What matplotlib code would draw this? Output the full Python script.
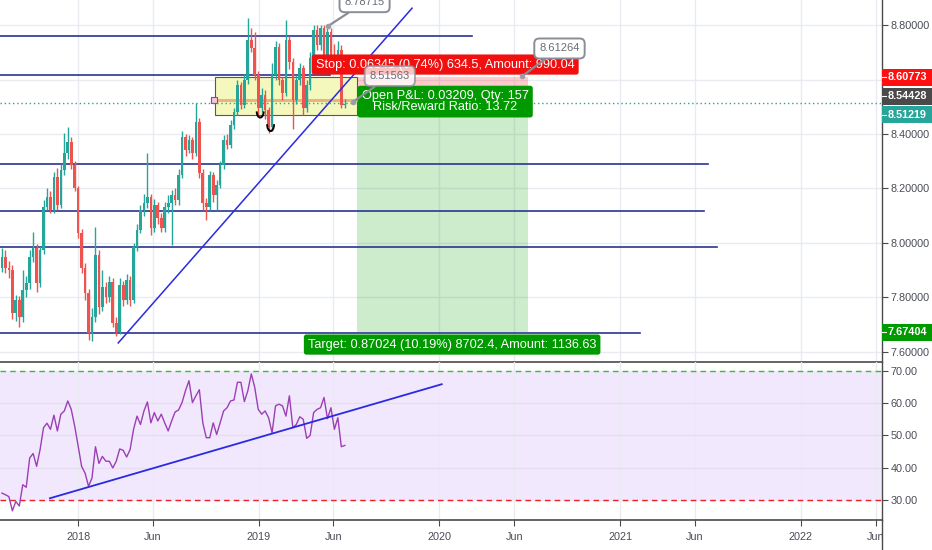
import datetime as dt
import numpy as np
import matplotlib
matplotlib.use("Agg")
import matplotlib.pyplot as plt
import matplotlib.dates as mdates
import matplotlib.transforms as mtrans
from matplotlib.patches import Rectangle, Arc
from matplotlib.lines import Line2D
from matplotlib import font_manager

# ---- data (weekly bars, first bar week of 2017-07-31) ----
first_week = dt.date(2017, 7, 31)
first_open = 7.908
closes = [7.949, 7.908, 7.901, 7.743, 7.791, 7.728, 7.828, 7.853, 7.949, 7.982,
          7.853, 7.974, 8.132, 8.169, 8.121, 8.242, 8.139, 8.268, 8.330, 8.371,
          8.286, 8.202, 8.037, 7.908, 7.816, 7.670, 7.728, 7.956, 7.765, 7.839,
          7.802, 7.857, 7.706, 7.673, 7.846, 7.791, 7.864, 7.791, 7.985, 8.048,
          8.121, 8.147, 8.169, 8.055, 8.139, 8.092, 8.055, 8.132, 8.147, 8.176,
          8.158, 8.249, 8.389, 8.341, 8.378, 8.330, 8.444, 8.257, 8.147, 8.132,
          8.249, 8.176, 8.213, 8.286, 8.378, 8.360, 8.433, 8.481, 8.580, 8.506,
          8.598, 8.745, 8.716, 8.617, 8.495, 8.543, 8.488, 8.426, 8.617, 8.719,
          8.598, 8.550, 8.745, 8.664, 8.525, 8.598, 8.642, 8.495, 8.580, 8.679,
          8.782, 8.727, 8.789, 8.690, 8.774, 8.679, 8.653, 8.708, 8.506, 8.512]
highs = [7.982, 7.975, 7.935, 7.920, 7.810, 7.805, 7.900, 7.880, 7.975, 8.040,
         7.995, 7.990, 8.158, 8.200, 8.190, 8.260, 8.275, 8.290, 8.404, 8.426,
         8.390, 8.300, 8.210, 8.050, 7.925, 7.830, 7.760, 8.059, 7.975, 7.900,
         7.855, 7.880, 7.870, 7.730, 7.870, 7.860, 7.885, 7.880, 8.000, 8.070,
         8.140, 8.180, 8.330, 8.180, 8.160, 8.150, 8.110, 8.150, 8.175, 8.195,
         8.200, 8.270, 8.410, 8.400, 8.395, 8.390, 8.514, 8.460, 8.270, 8.165,
         8.265, 8.260, 8.230, 8.300, 8.395, 8.400, 8.450, 8.495, 8.600, 8.590,
         8.620, 8.826, 8.789, 8.775, 8.630, 8.570, 8.560, 8.500, 8.660, 8.740,
         8.735, 8.610, 8.818, 8.760, 8.680, 8.615, 8.660, 8.655, 8.600, 8.700,
         8.800, 8.800, 8.800, 8.800, 8.798, 8.790, 8.730, 8.740, 8.725, 8.530]
lows = [7.895, 7.890, 7.870, 7.720, 7.715, 7.690, 7.710, 7.800, 7.830, 7.930,
        7.820, 7.840, 7.960, 8.120, 8.110, 8.110, 8.120, 8.130, 8.250, 8.310,
        8.270, 8.190, 8.020, 7.890, 7.790, 7.644, 7.640, 7.710, 7.740, 7.750,
        7.780, 7.785, 7.690, 7.659, 7.665, 7.770, 7.775, 7.770, 7.780, 7.970,
        8.035, 8.100, 8.130, 8.030, 8.040, 8.070, 8.040, 8.040, 8.110, 7.993,
        8.140, 8.140, 8.240, 8.320, 8.330, 8.310, 8.320, 8.240, 8.120, 8.084,
        8.120, 8.150, 8.120, 8.200, 8.270, 8.345, 8.350, 8.420, 8.470, 8.490,
        8.495, 8.585, 8.700, 8.600, 8.470, 8.480, 8.455, 8.404, 8.410, 8.600,
        8.580, 8.525, 8.540, 8.640, 8.420, 8.510, 8.580, 8.470, 8.480, 8.560,
        8.660, 8.710, 8.710, 8.670, 8.680, 8.660, 8.630, 8.640, 8.495, 8.495]
rsi = [32.1, 31.6, 31.0, 26.6, 29.5, 28.1, 34.7, 33.9, 43.0, 44.4,
       40.4, 45.6, 52.4, 53.8, 51.9, 56.3, 51.4, 56.6, 57.6, 60.7,
       58.1, 52.9, 46.7, 40.4, 38.3, 34.2, 36.8, 46.5, 41.3, 43.5,
       42.0, 42.0, 39.9, 42.0, 45.8, 45.4, 43.3, 45.6, 51.9, 56.0,
       53.4, 57.6, 60.4, 53.9, 57.1, 54.5, 56.6, 53.9, 51.4, 54.5,
       57.3, 57.9, 60.2, 63.9, 67.0, 60.2, 62.3, 64.2, 53.9, 49.3,
       49.3, 53.9, 50.3, 53.9, 57.6, 58.6, 60.7, 61.0, 66.5, 66.5,
       60.5, 63.9, 69.1, 64.9, 58.1, 56.6, 57.6, 55.5, 50.8, 59.2,
       59.7, 59.2, 56.0, 62.3, 52.4, 53.4, 55.8, 55.0, 49.1, 50.0,
       57.1, 58.1, 58.6, 61.8, 55.2, 58.6, 51.9, 55.5, 46.5, 46.9]

levels = [8.760, 8.617, 8.290, 8.117, 7.985, 7.670]
level_ends = ["2020-03-08", "2019-05-26", "2021-06-28", "2021-06-20", "2021-07-16", "2021-02-10"]
trend_dates = ["2018-03-23", "2019-11-07"]
trend_prices = [7.633, 8.862]
rsi_trend_dates = ["2017-11-05", "2020-01-06"]
rsi_trend_vals = [30.5, 65.9]

entry, stop, target = 8.54428, 8.60773, 7.67404
last_price = 8.51219
pos_start, pos_end = "2019-07-18", "2020-06-29"
zone_dates = ["2018-10-05", "2019-07-18"]
zone_prices = [8.470, 8.609]
ray_price = 8.525

tick_dates = ["2018-01-01", "2018-06-01", "2019-01-01", "2019-06-01", "2020-01-01",
              "2020-06-01", "2021-01-01", "2021-06-01", "2022-01-01", "2022-06-01"]
tick_labels = ["2018", "Jun", "2019", "Jun", "2020", "Jun", "2021", "Jun", "2022", "Jun"]
price_ticks = [7.6, 7.8, 8.0, 8.2, 8.4, 8.6, 8.8]
rsi_ticks = [30, 40, 50, 60, 70]

# callouts: text, point (date, price), box (date, price)
callouts = [("8.78715", ("2019-05-21", 8.796), ("2019-08-03", 8.884)),
            ("8.61264", ("2020-06-17", 8.613), ("2020-08-31", 8.714)),
            ("8.51563", ("2019-07-10", 8.517), ("2019-09-23", 8.613))]

# ---- styling ----
def has_font(name):
    try:
        font_manager.findfont(font_manager.FontProperties(family=name), fallback_to_default=False)
        return True
    except ValueError:
        return False

plt.rcParams['font.family'] = ['Liberation Sans', 'DejaVu Sans']
narrow = has_font("Liberation Sans Narrow")
LBL_FAM = ["Liberation Sans Narrow", "DejaVu Sans"] if narrow else ["Liberation Sans", "DejaVu Sans"]
LBL_SIZE = 11 if narrow else 9.2

TEAL = '#26a69a'
RED = '#ef5350'
GRID = '#e9ebf1'
AXC = '#4a4a4a'
TXT = '#4a4d57'
NAVY = '#2a3590'

d = mdates.datestr2num

fig = plt.figure(figsize=(9.32, 5.5), dpi=100)
W, H = 932.0, 550.0
ax = fig.add_axes([0, 188 / H, 882 / W, 362 / H])
ax2 = fig.add_axes([0, 30 / H, 882 / W, 158 / H], sharex=ax)

xmin, xmax = d("2017-07-27"), d("2022-06-14")
ax.set_xlim(xmin, xmax)
ax.set_ylim(7.563, 8.892)
ax2.set_ylim(23.75, 72.8)

dates = mdates.date2num([first_week + dt.timedelta(weeks=i) for i in range(len(closes))])
closes = np.array(closes)
opens = np.concatenate([[first_open], closes[:-1]])
highs = np.array(highs)
lows = np.array(lows)

# grids
for t in tick_dates:
    ax.axvline(d(t), color=GRID, lw=1, zorder=0)
    ax2.axvline(d(t), color=GRID, lw=1, zorder=0.5)
for p in price_ticks:
    ax.axhline(p, color=GRID, lw=1, zorder=0)

# yellow zone + orange ray
ax.add_patch(Rectangle((d(zone_dates[0]), zone_prices[0]), d(zone_dates[1]) - d(zone_dates[0]),
                       zone_prices[1] - zone_prices[0], fc='#f4f8bd', ec='#55585f', lw=0.8, zorder=1))
ax.plot([d(zone_dates[0]) - 3, d(zone_dates[1])], [ray_price, ray_price], color='#f0b27a', lw=2.2, zorder=1.5)
ax.plot([d(zone_dates[0]) - 3], [ray_price], marker='s', ms=4, mfc='#f5c6e0', mec='#b03a7a', mew=0.8, zorder=1.6)

# position tool zones
ax.add_patch(Rectangle((d(pos_start), entry), d(pos_end) - d(pos_start), stop - entry,
                       fc='#ff0000', alpha=0.2, ec='none', zorder=1))
ax.add_patch(Rectangle((d(pos_start), target), d(pos_end) - d(pos_start), entry - target,
                       fc='#00a000', alpha=0.2, ec='none', zorder=1))

# horizontal levels
for lv, le in zip(levels, level_ends):
    ax.plot([xmin, d(le)], [lv, lv], color=NAVY, lw=1.2, zorder=2)

# candles
cols = np.where(closes >= opens, TEAL, RED)
ax.vlines(dates, lows, highs, colors=cols, lw=1.0, zorder=3)
ax.bar(dates, np.maximum(np.abs(closes - opens), 0.004), bottom=np.minimum(opens, closes),
       width=5.4, color=cols, zorder=3.1)

# trend line
ax.plot([d(x) for x in trend_dates], trend_prices, color='#2a2ae0', lw=1.1, zorder=4)

# little arcs
ax.add_patch(Arc((d("2019-01-04"), 8.483), 14, 0.045, theta1=180, theta2=360, color='black', lw=1.4, zorder=4))
ax.add_patch(Arc((d("2019-01-25"), 8.436), 14, 0.05, theta1=180, theta2=360, color='black', lw=1.4, zorder=4))

# last price dotted line
ax.axhline(last_price, color=TEAL, lw=1, ls=(0, (1, 2)), zorder=2.5)

# position labels
box_kw = dict(boxstyle='round,pad=0.32,rounding_size=0.2', ec='none')
ax.text(d("2020-01-13"), 8.655, "Stop: 0.06345 (0.74%) 634.5, Amount: 990.04", ha='center', va='center',
        color='white', family=LBL_FAM, fontsize=LBL_SIZE, zorder=5, bbox=dict(fc='#f01010', **box_kw))
ax.text(d("2020-01-13"), 8.519, "Open P&L: 0.03209, Qty: 157\nRisk/Reward Ratio: 13.72", ha='center', va='center',
        color='white', family=LBL_FAM, fontsize=LBL_SIZE, linespacing=0.95, zorder=5,
        bbox=dict(fc='#009a00', **box_kw))
ax.text(d("2020-01-27"), 7.627, "Target: 0.87024 (10.19%) 8702.4, Amount: 1136.63", ha='center', va='center',
        color='white', family=LBL_FAM, fontsize=LBL_SIZE, zorder=5, bbox=dict(fc='#009a00', **box_kw))

# callouts
for txt, (pd_, pp), (bd, bp) in callouts:
    a = 0.75 if txt == "8.51563" else 1.0
    an = ax.annotate(txt, xy=(d(pd_), pp), xytext=(d(bd), bp), ha='center', va='center', fontsize=8,
                     color='#6a6d78', zorder=6,
                     bbox=dict(boxstyle='round,pad=0.45', fc='white', ec='#8a8d96', lw=1.4, alpha=a),
                     arrowprops=dict(arrowstyle='-', color='#8a8d96', lw=1.6, shrinkA=0, shrinkB=0))
    an.set_clip_on(True)
    ax.plot([d(pd_)], [pp], 'o', ms=3, color='#9a9da6', zorder=6)

# RSI pane
ax2.axhspan(30, 70, xmin=0, xmax=1, color='#f2e8fd', zorder=0)
for v in [40, 50, 60]:
    ax2.axhline(v, color='#e6def0', lw=1, zorder=0.6)
ax2.axhline(70, color='#22cc22', lw=1, ls=(0, (4, 3)), zorder=1)
ax2.axhline(30, color='#ee2020', lw=1, ls=(0, (4, 3)), zorder=1)
ax2.plot(dates, rsi, color='#9b3fb5', lw=1.0, zorder=2)
ax2.plot([d(x) for x in rsi_trend_dates], rsi_trend_vals, color='#2a2ae0', lw=1.3, zorder=3)

# axes cosmetics
for a_ in (ax, ax2):
    a_.spines['top'].set_visible(False)
    a_.spines['left'].set_visible(False)
    a_.spines['right'].set_color(AXC)
    a_.spines['bottom'].set_color(AXC)
    a_.spines['right'].set_linewidth(1)
    a_.spines['bottom'].set_linewidth(1.2)
    a_.yaxis.tick_right()
    a_.tick_params(axis='y', length=4, width=0.8, color=AXC, labelcolor=TXT, labelsize=7.8, pad=2)
    a_.set_facecolor('none')

# the 8.6 label sits under the red stop tag on the price scale
ax.set_yticks(price_ticks)
ax.set_yticklabels(["" if abs(p - 8.6) < 1e-9 else "%.5f" % p for p in price_ticks])
ax2.set_yticks(rsi_ticks)
ax2.set_yticklabels(["%.2f" % v for v in rsi_ticks])
ax.tick_params(axis='x', bottom=False, labelbottom=False)
ax2.set_xticks([d(t) for t in tick_dates])
ax2.set_xticklabels(tick_labels)
ax2.tick_params(axis='x', length=4, width=0.8, color=AXC, labelcolor=TXT, labelsize=7.8, pad=5)

# colored price tags on the right scale
tag_tr = mtrans.blended_transform_factory(ax.transAxes, ax.transData)
tags = [("8.60773", 8.609, '#ff1010'), ("8.54428", 8.539, '#4a4a4a'),
        ("8.51219", 8.470, TEAL), ("7.67404", 7.673, '#009a00')]
tag_h = 17 / 272.5
for txt, yc, col in tags:
    ax.add_patch(Rectangle((1.0, yc - tag_h / 2), 50 / 882, tag_h, transform=tag_tr, fc=col, ec='none',
                           clip_on=False, zorder=6))
    ax.plot([1.0, 1.0 + 4 / 882], [yc, yc], transform=tag_tr, color='white', lw=0.8, clip_on=False, zorder=7)
    ax.text(1.0 + 6 / 882, yc, txt, transform=tag_tr, ha='left', va='center', color='white',
            fontsize=7.8, fontweight='bold', clip_on=False, zorder=7)

fig.add_artist(Line2D([882 / W, 882 / W], [0, 30 / H], transform=fig.transFigure, color=AXC, lw=1))

fig.savefig("out.png", dpi=100)
